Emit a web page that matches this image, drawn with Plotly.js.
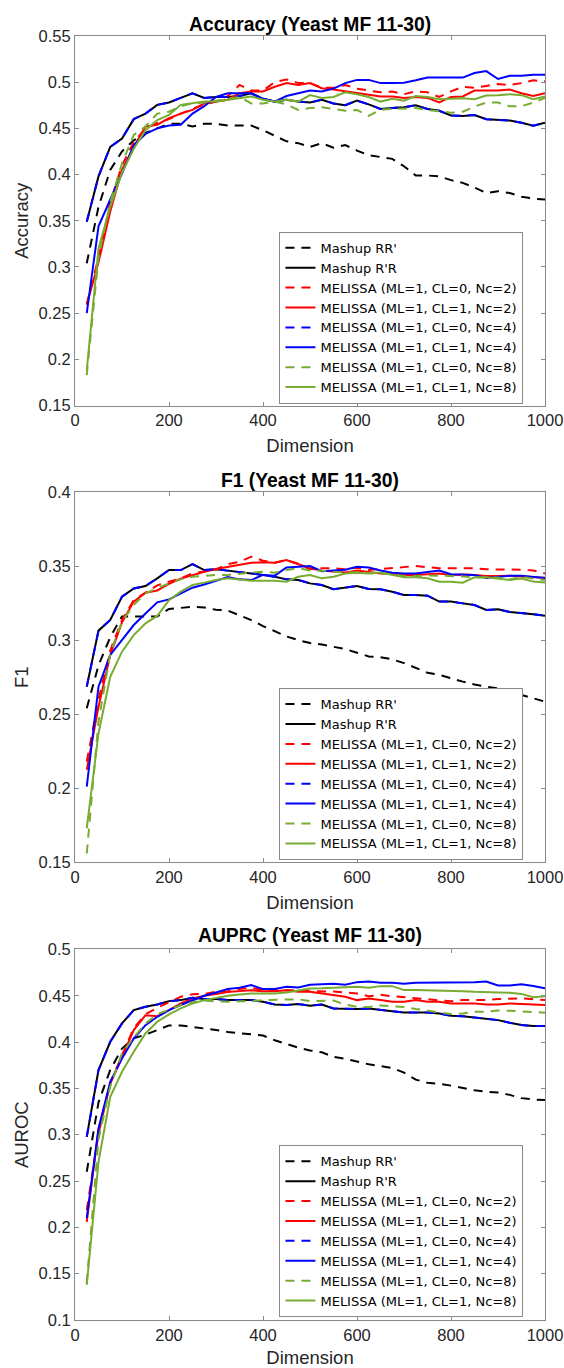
<!DOCTYPE html>
<html>
<head>
<meta charset="utf-8">
<script src="https://cdn.plot.ly/plotly-3.0.1.min.js"></script>
<style>html,body{margin:0;padding:0;background:#fff;}</style>
</head>
<body>
<div id="chart" style="width:564px;height:1368px;"></div>
<script>
// ---------- data ----------
const dims = [25,50,75,100,125,150,175,200,225,250,275,300,325,350,375,400,425,450,475,500,
              525,550,575,600,625,650,675,700,725,750,775,800,825,850,875,900,925,950,975,1000];

const seriesNames = ["Mashup RR'", "Mashup R'R",
  "MELISSA (ML=1, CL=0, Nc=2)", "MELISSA (ML=1, CL=1, Nc=2)",
  "MELISSA (ML=1, CL=0, Nc=4)", "MELISSA (ML=1, CL=1, Nc=4)",
  "MELISSA (ML=1, CL=0, Nc=8)", "MELISSA (ML=1, CL=1, Nc=8)"];
const seriesColors = ["#000000","#000000","#ff0000","#ff0000","#0000ff","#0000ff","#77ac30","#77ac30"];
const seriesDash = ["9px,7px","solid","9px,7px","solid","9px,7px","solid","9px,7px","solid"];

const panelTitles = ["Accuracy (Yeast MF 11-30)", "F1 (Yeast MF 11-30)", "AUPRC (Yeast MF 11-30)"];
const yTitles = ["Accuracy", "F1", "AUROC"];
const xTitle = "Dimension";
const xTickVals = [0,200,400,600,800,1000];
const yTicks1 = [0.15,0.2,0.25,0.3,0.35,0.4,0.45,0.5,0.55];
const yTickText1 = ["0.15","0.2","0.25","0.3","0.35","0.4","0.45","0.5","0.55"];
const yTicks2 = [0.15,0.2,0.25,0.3,0.35,0.4];
const yTickText2 = ["0.15","0.2","0.25","0.3","0.35","0.4"];
const yTicks3 = [0.1,0.15,0.2,0.25,0.3,0.35,0.4,0.45,0.5];
const yTickText3 = ["0.1","0.15","0.2","0.25","0.3","0.35","0.4","0.45","0.5"];

// Accuracy
const accRR   = [0.304,0.365,0.405,0.425,0.437,0.445,0.450,0.455,0.455,0.452,0.455,0.455,0.453,0.453,0.453,0.448,0.442,0.436,0.434,0.430,0.434,0.429,0.432,0.426,0.421,0.419,0.417,0.409,0.399,0.399,0.398,0.394,0.391,0.386,0.380,0.382,0.380,0.376,0.374,0.373];
const accRtR  = [0.349,0.398,0.430,0.439,0.460,0.466,0.4755,0.478,0.483,0.488,0.483,0.484,0.484,0.485,0.488,0.482,0.479,0.481,0.479,0.478,0.481,0.477,0.475,0.480,0.476,0.471,0.472,0.473,0.475,0.471,0.469,0.464,0.4635,0.4645,0.460,0.459,0.4585,0.456,0.453,0.456];
const accC0N2 = [0.260,0.310,0.370,0.410,0.435,0.450,0.456,0.460,0.466,0.471,0.476,0.479,0.485,0.497,0.491,0.491,0.500,0.503,0.499,0.499,0.494,0.494,0.497,0.493,0.491,0.489,0.490,0.487,0.490,0.489,0.484,0.490,0.495,0.494,0.496,0.498,0.497,0.499,0.502,0.501];
const accC1N2 = [0.259,0.305,0.360,0.405,0.430,0.452,0.454,0.461,0.466,0.470,0.477,0.479,0.481,0.488,0.490,0.490,0.495,0.499,0.497,0.499,0.4935,0.492,0.490,0.488,0.486,0.4845,0.4845,0.483,0.484,0.483,0.478,0.484,0.4845,0.491,0.491,0.491,0.492,0.488,0.485,0.488];
const accC0N4 = [0.349,0.398,0.430,0.439,0.460,0.466,0.4755,0.478,0.483,0.488,0.483,0.484,0.484,0.485,0.488,0.482,0.479,0.481,0.479,0.478,0.481,0.477,0.475,0.480,0.476,0.471,0.472,0.473,0.475,0.471,0.469,0.464,0.4635,0.4645,0.460,0.459,0.4585,0.456,0.453,0.456];
const accC1N4 = [0.250,0.344,0.373,0.401,0.432,0.444,0.450,0.453,0.454,0.466,0.474,0.484,0.488,0.488,0.488,0.482,0.479,0.485,0.488,0.491,0.490,0.493,0.499,0.5025,0.5025,0.499,0.499,0.4995,0.502,0.505,0.505,0.505,0.505,0.510,0.512,0.5035,0.507,0.507,0.508,0.508];
const accC0N8 = [0.183,0.310,0.370,0.412,0.443,0.452,0.466,0.468,0.474,0.477,0.478,0.480,0.482,0.484,0.477,0.477,0.479,0.476,0.470,0.472,0.473,0.471,0.469,0.470,0.4635,0.4705,0.471,0.472,0.472,0.470,0.4685,0.467,0.468,0.4735,0.478,0.478,0.474,0.474,0.478,0.483];
const accC1N8 = [0.188,0.320,0.365,0.402,0.428,0.448,0.459,0.4645,0.4755,0.477,0.479,0.479,0.481,0.4825,0.4845,0.481,0.479,0.481,0.479,0.486,0.483,0.484,0.489,0.487,0.484,0.479,0.482,0.480,0.485,0.484,0.4815,0.482,0.4825,0.4815,0.4855,0.486,0.487,0.486,0.4815,0.4845];

// F1
const f1RR   = [0.254,0.283,0.302,0.316,0.316,0.316,0.316,0.321,0.322,0.3225,0.322,0.3205,0.320,0.317,0.3135,0.3095,0.306,0.3025,0.300,0.298,0.297,0.2955,0.294,0.2915,0.289,0.2885,0.287,0.2845,0.281,0.278,0.2765,0.274,0.272,0.270,0.2685,0.2675,0.266,0.263,0.2605,0.2585];
const f1RtR  = [0.2686,0.3064,0.3136,0.3293,0.3349,0.3365,0.3417,0.3473,0.3473,0.3513,0.3473,0.3478,0.3469,0.3457,0.345,0.3439,0.3428,0.341,0.3406,0.3383,0.3372,0.3343,0.3354,0.3365,0.3345,0.3343,0.3327,0.3304,0.3304,0.330,0.326,0.326,0.3248,0.3237,0.3203,0.3208,0.319,0.3185,0.3175,0.3165];
const f1C0N2 = [0.218,0.260,0.293,0.3136,0.327,0.332,0.337,0.3394,0.3417,0.345,0.3466,0.3478,0.3513,0.3529,0.3563,0.3536,0.3522,0.354,0.3515,0.3478,0.3485,0.3485,0.3478,0.3489,0.3473,0.348,0.3489,0.3492,0.350,0.3492,0.3485,0.3485,0.3485,0.3485,0.3478,0.3478,0.3478,0.3475,0.347,0.345];
const f1C1N2 = [0.2125,0.255,0.290,0.312,0.326,0.332,0.3335,0.338,0.3415,0.344,0.3462,0.348,0.3495,0.351,0.3522,0.3525,0.3522,0.354,0.3513,0.3485,0.3469,0.3462,0.3457,0.3469,0.3462,0.345,0.345,0.3439,0.3439,0.3445,0.345,0.3439,0.3443,0.3439,0.3433,0.3433,0.3435,0.343,0.3425,0.3421];
const f1C0N4 = [0.2686,0.3064,0.3136,0.3293,0.3349,0.3365,0.3417,0.3473,0.3473,0.3513,0.3473,0.3478,0.3469,0.3457,0.345,0.3439,0.3428,0.341,0.3406,0.3383,0.3372,0.3343,0.3354,0.3365,0.3345,0.3343,0.3327,0.3304,0.3304,0.330,0.326,0.326,0.3248,0.3237,0.3203,0.3208,0.319,0.3185,0.3175,0.3165];
const f1C1N4 = [0.2011,0.2686,0.290,0.3001,0.3102,0.318,0.3255,0.3275,0.3316,0.3354,0.3375,0.340,0.3425,0.341,0.3405,0.344,0.3435,0.349,0.3495,0.350,0.3465,0.347,0.3475,0.3495,0.349,0.347,0.3455,0.345,0.345,0.346,0.347,0.3445,0.3445,0.344,0.342,0.343,0.3435,0.3435,0.343,0.342];
const f1C0N8 = [0.156,0.245,0.291,0.3125,0.3237,0.3316,0.335,0.3383,0.341,0.3428,0.3433,0.344,0.344,0.345,0.3455,0.3462,0.3455,0.3473,0.3485,0.347,0.3469,0.3462,0.346,0.3458,0.3455,0.345,0.3445,0.3433,0.3433,0.3437,0.3435,0.3433,0.343,0.3422,0.3422,0.3422,0.341,0.3428,0.3415,0.3406];
const f1C1N8 = [0.173,0.237,0.2753,0.2922,0.3034,0.3113,0.3163,0.327,0.3327,0.3372,0.3388,0.3406,0.3417,0.341,0.3401,0.340,0.340,0.3394,0.3428,0.344,0.3417,0.3428,0.345,0.3455,0.345,0.3457,0.3439,0.3424,0.3424,0.3417,0.3394,0.3394,0.3388,0.3424,0.3424,0.3417,0.3406,0.3415,0.3395,0.3388];

// AUPRC
const apRR   = [0.260,0.335,0.370,0.393,0.404,0.408,0.413,0.418,0.418,0.4165,0.415,0.413,0.411,0.4095,0.4085,0.407,0.402,0.398,0.394,0.391,0.389,0.384,0.382,0.379,0.376,0.374,0.372,0.367,0.3595,0.356,0.355,0.353,0.3505,0.348,0.3465,0.3455,0.343,0.3395,0.338,0.3375];
const apRtR  = [0.2977,0.3697,0.4003,0.4201,0.4345,0.4381,0.4406,0.4442,0.4453,0.4478,0.4464,0.4464,0.4453,0.4453,0.4453,0.4435,0.4406,0.440,0.441,0.4392,0.4406,0.4363,0.4356,0.4356,0.4363,0.4345,0.4334,0.432,0.432,0.432,0.4309,0.4284,0.428,0.4266,0.4255,0.4237,0.4208,0.4184,0.4173,0.4173];
const apC0N2 = [0.2185,0.301,0.356,0.386,0.415,0.430,0.437,0.443,0.449,0.4515,0.452,0.4543,0.455,0.4572,0.4586,0.456,0.456,0.4568,0.456,0.455,0.455,0.4545,0.4535,0.4525,0.4495,0.451,0.4495,0.4483,0.4475,0.4458,0.4445,0.444,0.4453,0.4453,0.4453,0.4464,0.4471,0.4472,0.4463,0.4454];
const apC1N2 = [0.206,0.305,0.355,0.385,0.413,0.429,0.428,0.4345,0.4417,0.447,0.450,0.452,0.454,0.455,0.456,0.455,0.455,0.456,0.4543,0.4543,0.4525,0.4507,0.4489,0.4453,0.4471,0.4453,0.4435,0.4435,0.4453,0.4435,0.4435,0.4417,0.4417,0.4417,0.4406,0.4406,0.4417,0.441,0.4405,0.440];
const apC0N4 = [0.2977,0.3697,0.4003,0.4201,0.4345,0.4381,0.4406,0.4442,0.4453,0.4478,0.4464,0.4464,0.4453,0.4453,0.4453,0.4435,0.4406,0.440,0.441,0.4392,0.4406,0.4363,0.4356,0.4356,0.4363,0.4345,0.4334,0.432,0.432,0.432,0.4309,0.4284,0.428,0.4266,0.4255,0.4237,0.4208,0.4184,0.4173,0.4173];
const apC1N4 = [0.210,0.3067,0.357,0.3823,0.4039,0.4183,0.4273,0.4345,0.440,0.4453,0.450,0.4536,0.4572,0.4586,0.4615,0.4572,0.4572,0.4597,0.459,0.4618,0.4622,0.4629,0.4618,0.4647,0.4654,0.464,0.464,0.4629,0.464,0.464,0.4647,0.464,0.464,0.4647,0.4654,0.461,0.461,0.4625,0.4605,0.458];
const apC0N8 = [0.140,0.295,0.352,0.388,0.405,0.420,0.430,0.435,0.440,0.443,0.445,0.444,0.4435,0.444,0.444,0.4453,0.4455,0.4462,0.4462,0.4442,0.4445,0.4448,0.4405,0.438,0.438,0.4395,0.4385,0.438,0.4358,0.434,0.4315,0.4302,0.4309,0.4327,0.4327,0.434,0.4338,0.4332,0.4327,0.4317];
const apC1N8 = [0.138,0.2707,0.341,0.368,0.3895,0.4093,0.422,0.4298,0.4363,0.4417,0.4453,0.4478,0.450,0.4514,0.4525,0.4525,0.4525,0.4536,0.4561,0.4579,0.458,0.4586,0.459,0.4597,0.4586,0.4604,0.4604,0.4561,0.4561,0.456,0.456,0.4554,0.455,0.4543,0.4543,0.4536,0.4532,0.452,0.4485,0.4495];

const panels = [
  [accRR, accRtR, accC0N2, accC1N2, accC0N4, accC1N4, accC0N8, accC1N8],
  [f1RR, f1RtR, f1C0N2, f1C1N2, f1C0N4, f1C1N4, f1C0N8, f1C1N8],
  [apRR, apRtR, apC0N2, apC1N2, apC0N4, apC1N4, apC0N8, apC1N8]
];

// ---------- figure ----------
const FONT = "Liberation Sans, Arial, Helvetica, sans-serif";
const LEGFONT = "DejaVu Sans, Liberation Sans, Arial, sans-serif";
const AX = "#8a8a8a";
const traces = [];
panels.forEach((series, p) => {
  const sfx = p === 0 ? "" : String(p + 1);
  series.forEach((vals, i) => {
    traces.push({
      type: "scatter", mode: "lines",
      x: dims, y: vals, name: seriesNames[i],
      xaxis: "x" + sfx, yaxis: "y" + sfx, legend: "legend" + sfx,
      line: {color: seriesColors[i], width: 2, dash: seriesDash[i]},
      hoverinfo: "x+y+name"
    });
  });
});

function xAxis(anchor) {
  return {
    anchor: anchor, domain: [0, 1], range: [0, 1000],
    tickmode: "array", tickvals: xTickVals,
    showline: true, linecolor: AX, linewidth: 1, mirror: "ticks",
    ticks: "inside", ticklen: 4, tickcolor: AX, tickwidth: 1,
    showgrid: false, zeroline: false,
    tickfont: {family: FONT, size: 16.5, color: "#262626"},
    title: {text: xTitle, font: {family: FONT, size: 18.5, color: "#262626"}, standoff: 10}
  };
}
function yAxis(anchor, domain, range, tv, tt, title) {
  return {
    anchor: anchor, domain: domain, range: range,
    tickmode: "array", tickvals: tv, ticktext: tt,
    showline: true, linecolor: AX, linewidth: 1, mirror: "ticks",
    ticks: "inside", ticklen: 4, tickcolor: AX, tickwidth: 1,
    showgrid: false, zeroline: false,
    tickfont: {family: FONT, size: 16.5, color: "#262626"},
    title: {text: title, font: {family: FONT, size: 18.5, color: "#262626"}, standoff: 5}
  };
}
function legendAt(y) {
  return {
    x: 0.435, xanchor: "left", y: y, yanchor: "middle",
    bgcolor: "#ffffff", bordercolor: AX, borderwidth: 1,
    font: {family: LEGFONT, size: 13, color: "#000000"},
    tracegroupgap: 0
  };
}
const titleY = [1.0093, 0.6542, 0.2991];
const annotations = panelTitles.map((t, k) => ({
  text: "<b>" + t + "</b>", xref: "paper", yref: "paper",
  x: 0.5, y: titleY[k], xanchor: "center", yanchor: "middle",
  showarrow: false, font: {family: FONT, size: 19.3, color: "#000000"}
}));

const layout = {
  width: 564, height: 1368,
  margin: {l: 75, r: 19, t: 36, b: 48},
  paper_bgcolor: "#ffffff", plot_bgcolor: "#ffffff",
  font: {family: FONT, color: "#262626"},
  showlegend: true,
  xaxis: xAxis("y"),
  yaxis: yAxis("x", [0.7122, 1], [0.15, 0.55], yTicks1, yTickText1, yTitles[0]),
  xaxis2: xAxis("y2"),
  yaxis2: yAxis("x2", [0.3564, 0.6449], [0.15, 0.4], yTicks2, yTickText2, yTitles[1]),
  xaxis3: xAxis("y3"),
  yaxis3: yAxis("x3", [0, 0.2886], [0.1, 0.5], yTicks3, yTickText3, yTitles[2]),
  legend: legendAt(0.7805),
  legend2: legendAt(0.4251),
  legend3: legendAt(0.0691),
  annotations: annotations
};

Plotly.newPlot("chart", traces, layout, {displayModeBar: false, responsive: false});
</script>
</body>
</html>
